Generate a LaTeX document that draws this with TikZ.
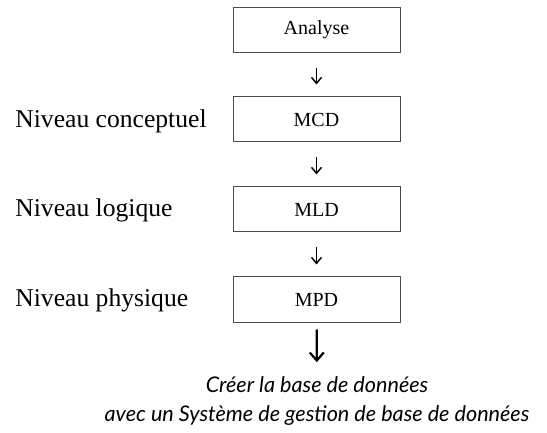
\documentclass[tikz,border=0pt]{standalone}
\usepackage{fontspec}
\setmainfont{Liberation Serif}
\newfontfamily\sgbdfont{Lato}
\usetikzlibrary{positioning,arrows.meta}
\tikzset{
  etape/.style={draw=black!70, line width=0.5pt, minimum width=83.5pt, minimum height=22.5pt, inner sep=0pt, font=\fontsize{10}{12}\selectfont},
  niveau/.style={anchor=west, inner sep=0pt, font=\fontsize{12.8}{15}\selectfont},
  fleche/.style={-{Straight Barb[length=3pt,width=5pt]}, line width=0.75pt, shorten <=7.5pt, shorten >=6pt},
}
\begin{document}
\begin{tikzpicture}[x=0.5pt,y=-0.5pt]
    %cadre
    \useasboundingbox (0,0) rectangle (547,433);
    \node[etape] (analyse) at (316.5, 30) {Analyse};
    \node[etape] (mcd) at (316.5, 119.5) {MCD};
    \node[etape] (mld) at (316.5, 209.5) {MLD};
    \node[etape] (mpd) at (316.5, 299.5) {MPD};

    \node[niveau] (conc) at (15, 121) {Niveau conceptuel};
    \node[niveau] (log) at (15, 210.5) {Niveau logique};
    \node[niveau] (phys) at (15, 300.5) {Niveau physique};

    \node[align=center, inner sep=0pt, font=\sgbdfont\itshape\fontsize{10.8}{14.5}\selectfont] (sgbd) at (317, 401)
        {Créer la base de données\\avec un Système de gestion de base de données};

    \draw[fleche] (analyse) -- (mcd);
    \draw[fleche] (mcd) -- (mld);
    \draw[fleche] (mld) -- (mpd);
    \draw[-{Straight Barb[length=4pt,width=7pt]}, line width=1.1pt, shorten <=3.5pt, shorten >=7pt] (mpd) -- (sgbd);
  \end{tikzpicture}
\end{document}
